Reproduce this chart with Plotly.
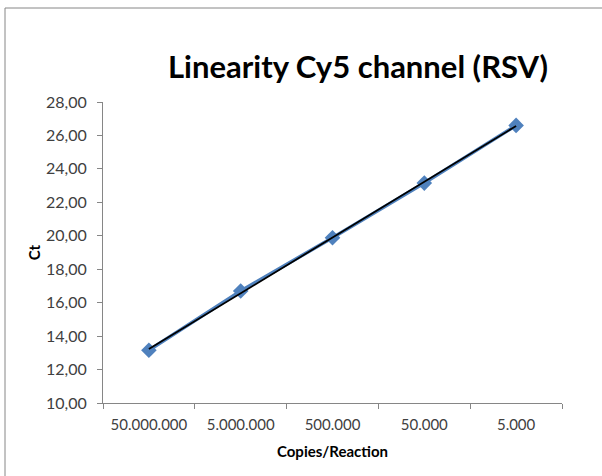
import numpy as np
import plotly.graph_objects as go

categories = ["50.000.000", "5.000.000", "500.000", "50.000", "5.000"]
ct_values = [13.15, 16.70, 19.88, 23.15, 26.60]
y_ticks = [10, 12, 14, 16, 18, 20, 22, 24, 26, 28]

idx = np.arange(len(categories))
slope, intercept = np.polyfit(idx, ct_values, 1)
trend = [slope * i + intercept for i in idx]

FONT = "Lato"
L, R, T, B = 103, 40, 102, 73
PW, PH = 602 - L - R, 476 - T - B

fig = go.Figure()
fig.add_trace(go.Scatter(
    x=categories, y=ct_values, mode="lines+markers",
    line=dict(color="#4F81BD", width=3.5),
    marker=dict(symbol="diamond", size=12, color="#4F81BD"),
    showlegend=False,
))
fig.add_trace(go.Scatter(
    x=categories, y=trend, mode="lines",
    line=dict(color="#000000", width=1.8),
    showlegend=False,
))

bx = (5 - L) / PW
by = 1 + (T - 8) / PH
fig.update_layout(
    width=602, height=476,
    margin=dict(l=L, r=R, t=T, b=B),
    paper_bgcolor="white", plot_bgcolor="white",
    separators=",.",
    font=dict(family=FONT, color="#404040", size=15),
    title=dict(text="<b>Linearity Cy5 channel (RSV)</b>", x=358/602, xanchor="center",
               y=1 - 67/476, yanchor="middle",
               font=dict(family=FONT, size=31, color="#000000")),
    xaxis=dict(
        type="category", showgrid=False, showline=True, linecolor="#868686", linewidth=1,
        ticks="outside", tickson="boundaries", ticklen=5, tickcolor="#868686",
        tickfont=dict(size=15, color="#404040"), ticklabelstandoff=8,
        title=dict(text="<b>Copies/Reaction</b>", font=dict(size=15, color="#000000"), standoff=14),
        range=[-0.5, 4.5], fixedrange=True,
    ),
    yaxis=dict(
        range=[10, 28], tickvals=y_ticks, tickformat=".2f",
        showgrid=False, showline=True, linecolor="#868686", linewidth=1,
        ticks="outside", ticklen=5, tickcolor="#868686",
        tickfont=dict(size=16, color="#404040"), ticklabelstandoff=7,
        title=dict(text="<b>Ct</b>", font=dict(size=15, color="#000000"), standoff=1),
        zeroline=False,
    ),
    shapes=[
        dict(type="line", xref="paper", yref="paper", x0=bx, x1=1.2, y0=by, y1=by,
             line=dict(color="#868686", width=1)),
        dict(type="line", xref="paper", yref="paper", x0=bx, x1=bx, y0=by, y1=-1,
             line=dict(color="#868686", width=1)),
    ],
)
fig.write_html("out.html", config={"displayModeBar": False},
               post_script="document.body.style.margin='0';")
